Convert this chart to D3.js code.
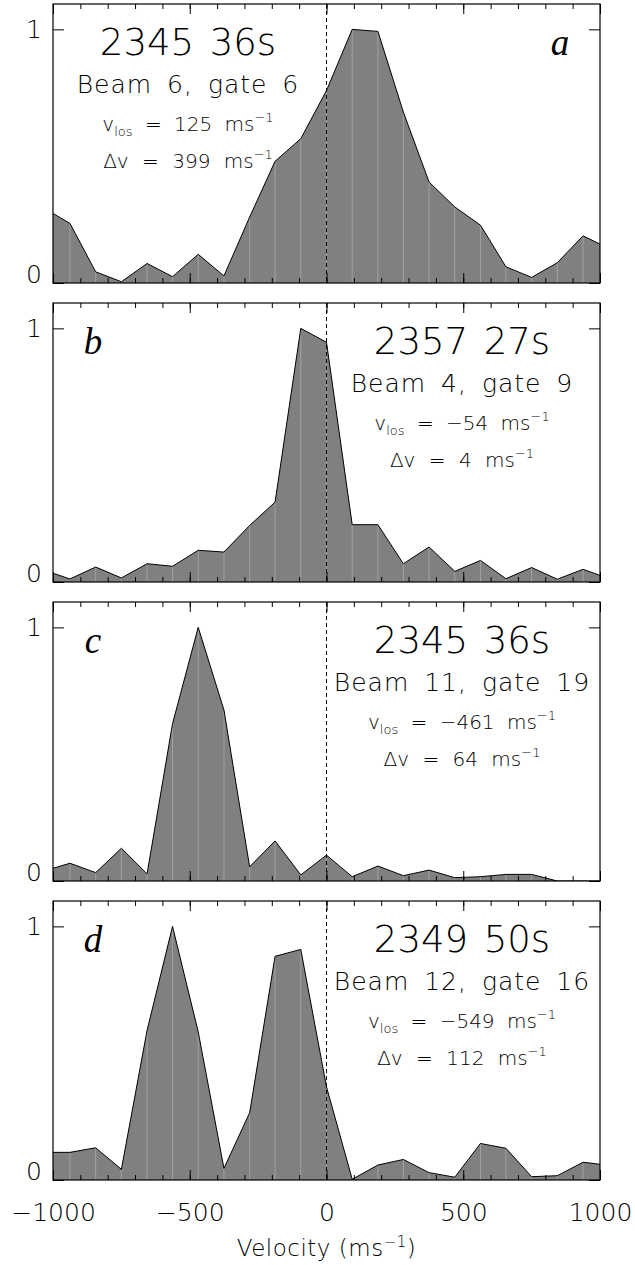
<!DOCTYPE html>
<html>
<head>
<meta charset="utf-8">
<script src="https://cdn.jsdelivr.net/npm/d3@7"></script>
<style>
  body { margin: 0; background: #fff; }
  svg { display: block; }
  text { font-family: 'DejaVu Sans', sans-serif; font-weight: 200; fill: #000; }
  .letter { font-family: 'Liberation Serif', serif; font-style: italic; font-weight: 400; }
</style>
</head>
<body>
<div id="stage"></div>
<script>
(function(d3) {
    'use strict';

    // velocity bins (m/s), the outer two fall just outside the axis and get clipped
    var velocities = [-1031, -938, -844, -750, -656, -563, -469, -375, -281, -188, -94, 0,
        94, 188, 281, 375, 469, 563, 656, 750, 844, 938, 1031];

    var spectrumA = [0.294, 0.235, 0.044, 0.005, 0.077, 0.025, 0.113, 0.028, 0.26, 0.48, 0.569, 0.759,
        1.0, 0.992, 0.674, 0.398, 0.30, 0.228, 0.064, 0.022, 0.08, 0.186, 0.137];
    var spectrumB = [0.046, 0.012, 0.059, 0.016, 0.072, 0.062, 0.125, 0.118, 0.223, 0.315, 1.0, 0.945,
        0.226, 0.226, 0.072, 0.138, 0.042, 0.085, 0.013, 0.057, 0.011, 0.05, 0.014];
    var spectrumC = [0.04, 0.07, 0.033, 0.129, 0.028, 0.62, 1.0, 0.674, 0.056, 0.158, 0.024, 0.102,
        0.017, 0.059, 0.021, 0.043, 0.013, 0.017, 0.026, 0.026, 0.0, 0.0, 0.0];
    var spectrumD = [0.109, 0.109, 0.127, 0.042, 0.59, 1.0, 0.584, 0.046, 0.265, 0.882, 0.909, 0.367,
        0.003, 0.059, 0.081, 0.029, 0.011, 0.144, 0.125, 0.013, 0.017, 0.07, 0.058];

    var panelLetters = ['a', 'b', 'c', 'd'];
    var times = ['2345 36s', '2357 27s', '2345 36s', '2349 50s'];
    var beams = ['Beam 6, gate 6', 'Beam 4, gate 9', 'Beam 11, gate 19', 'Beam 12, gate 16'];
    var vlos = ['125', '\u221254', '\u2212461', '\u2212549'];
    var widths = ['399', '4', '64', '112'];

    var xMajor = [-1000, -500, 0, 500, 1000];
    var xMinor = d3.range(-1000, 1001, 100);
    var yTicks = [0, 1];

    var spectra = [spectrumA, spectrumB, spectrumC, spectrumD];

    var W = 635, H = 1265,
        left = 53, right = 600,
        tops = [4, 303, 602, 901],
        ph = 279;

    var svg = d3.select('#stage').append('svg')
        .attr('width', W)
        .attr('height', H);

    var x = d3.scaleLinear().domain([-1000, 1000]).range([left, right]);
    var y = d3.scaleLinear().domain([0, 1.1]).range([ph, 0]);

    spectra.forEach(function(values, i) {
        var pts = velocities.map(function(v, j) { return { v: v, p: values[j] }; });
        var g = svg.append('g').attr('transform', 'translate(0,' + tops[i] + ')');

        g.append('clipPath').attr('id', 'clip' + i)
            .append('rect')
            .attr('x', left).attr('y', 0)
            .attr('width', right - left).attr('height', ph);

        var plot = g.append('g').attr('clip-path', 'url(#clip' + i + ')');

        plot.append('path')
            .datum(pts)
            .attr('fill', '#808080')
            .attr('d', d3.area()
                .x(function(d) { return x(d.v); })
                .y0(y(0))
                .y1(function(d) { return y(d.p); }));

        // pale lines marking each bin under the curve
        plot.selectAll('.bin')
            .data(pts)
            .enter()
            .append('line')
            .attr('class', 'bin')
            .attr('x1', function(d) { return x(d.v); })
            .attr('x2', function(d) { return x(d.v); })
            .attr('y1', y(0))
            .attr('y2', function(d) { return y(d.p); })
            .style('stroke', '#ababab')
            .style('stroke-width', 0.8);

        plot.append('path')
            .datum(pts)
            .attr('fill', 'none')
            .attr('stroke', '#000')
            .attr('stroke-width', 1)
            .attr('d', d3.line()
                .x(function(d) { return x(d.v); })
                .y(function(d) { return y(d.p); }));

        g.append('line')
            .attr('x1', x(0)).attr('x2', x(0))
            .attr('y1', 0).attr('y2', ph)
            .style('stroke', '#000')
            .style('stroke-width', 1)
            .style('stroke-dasharray', '4,3');

        // ticks, all pointing inward
        var axes = [
            d3.axisBottom(x).tickValues(xMinor).tickSize(-5),
            d3.axisBottom(x).tickValues(xMajor).tickSize(-10),
            d3.axisTop(x).tickValues(xMinor).tickSize(-5),
            d3.axisTop(x).tickValues(xMajor).tickSize(-10),
            d3.axisLeft(y).tickValues(yTicks).tickSize(-11),
            d3.axisRight(y).tickValues(yTicks).tickSize(-11)
        ];
        var shifts = ['0,' + ph, '0,' + ph, '0,0', '0,0', left + ',0', right + ',0'];
        axes.forEach(function(ax, k) {
            var a = g.append('g')
                .attr('transform', 'translate(' + shifts[k] + ')')
                .call(ax.tickFormat(''));
            a.select('.domain').remove();
            a.selectAll('.tick line').attr('stroke', '#000').attr('stroke-width', 1);
        });

        g.append('rect')
            .attr('x', left).attr('y', 0)
            .attr('width', right - left).attr('height', ph)
            .style('fill', 'none')
            .style('stroke', '#000')
            .style('stroke-width', 1.2);

        // y labels
        g.selectAll('.ylab')
            .data(yTicks)
            .enter()
            .append('text')
            .attr('class', 'ylab')
            .attr('x', left - 19)
            .attr('y', function(d) { return d === 0 ? y(d) : y(d) + 9; })
            .attr('text-anchor', 'middle')
            .style('font-size', '25px')
            .text(function(d) { return d; });

        // annotation
        var cx = i === 0 ? 188 : 462;
        g.append('text')
            .attr('x', cx).attr('y', 51)
            .attr('text-anchor', 'middle')
            .style('font-size', '37px')
            .style('word-spacing', '4px')
            .text(times[i]);
        g.append('text')
            .attr('x', cx).attr('y', 89)
            .attr('text-anchor', 'middle')
            .style('font-size', '25px')
            .style('letter-spacing', '1px')
            .style('word-spacing', '6px')
            .text(beams[i]);

        var t1 = g.append('text')
            .attr('x', cx).attr('y', 127)
            .attr('text-anchor', 'middle')
            .style('font-size', '20px')
            .style('word-spacing', '6px');
        t1.append('tspan').text('v');
        t1.append('tspan').attr('dy', 5).style('font-size', '13px').text('los');
        t1.append('tspan').attr('dy', -5).text(' = ' + vlos[i] + ' ms');
        t1.append('tspan').attr('dy', -9).style('font-size', '13px').text('\u22121');

        var t2 = g.append('text')
            .attr('x', cx).attr('y', 164)
            .attr('text-anchor', 'middle')
            .style('font-size', '20px')
            .style('word-spacing', '7px');
        t2.append('tspan').text('\u0394v = ' + widths[i] + ' ms');
        t2.append('tspan').attr('dy', -9).style('font-size', '13px').text('\u22121');

        g.append('text')
            .attr('class', 'letter')
            .attr('x', i === 0 ? 560 : 93).attr('y', 51)
            .attr('text-anchor', 'middle')
            .style('font-size', '37px')
            .text(panelLetters[i]);

        if (i === spectra.length - 1) {
            var lab = g.append('g')
                .attr('transform', 'translate(0,' + ph + ')')
                .call(d3.axisBottom(x).tickValues(xMajor).tickSize(0).tickPadding(23)
                    .tickFormat(function(d) { return d < 0 ? '\u2212' + Math.abs(d) : d; }));
            lab.select('.domain').remove();
            lab.selectAll('text')
                .attr('fill', '#000')
                .style('font-family', "'DejaVu Sans', sans-serif")
                .style('font-size', '25px');
        }
    });

    var title = svg.append('text')
        .attr('x', x(0)).attr('y', 1256)
        .attr('text-anchor', 'middle')
        .style('font-size', '23px')
        .style('letter-spacing', '0.5px');
    title.append('tspan').text('Velocity (ms');
    title.append('tspan').attr('dy', -9).style('font-size', '15px').text('\u22121');
    title.append('tspan').attr('dy', 9).text(')');

})(window.d3);
</script>
</body>
</html>
